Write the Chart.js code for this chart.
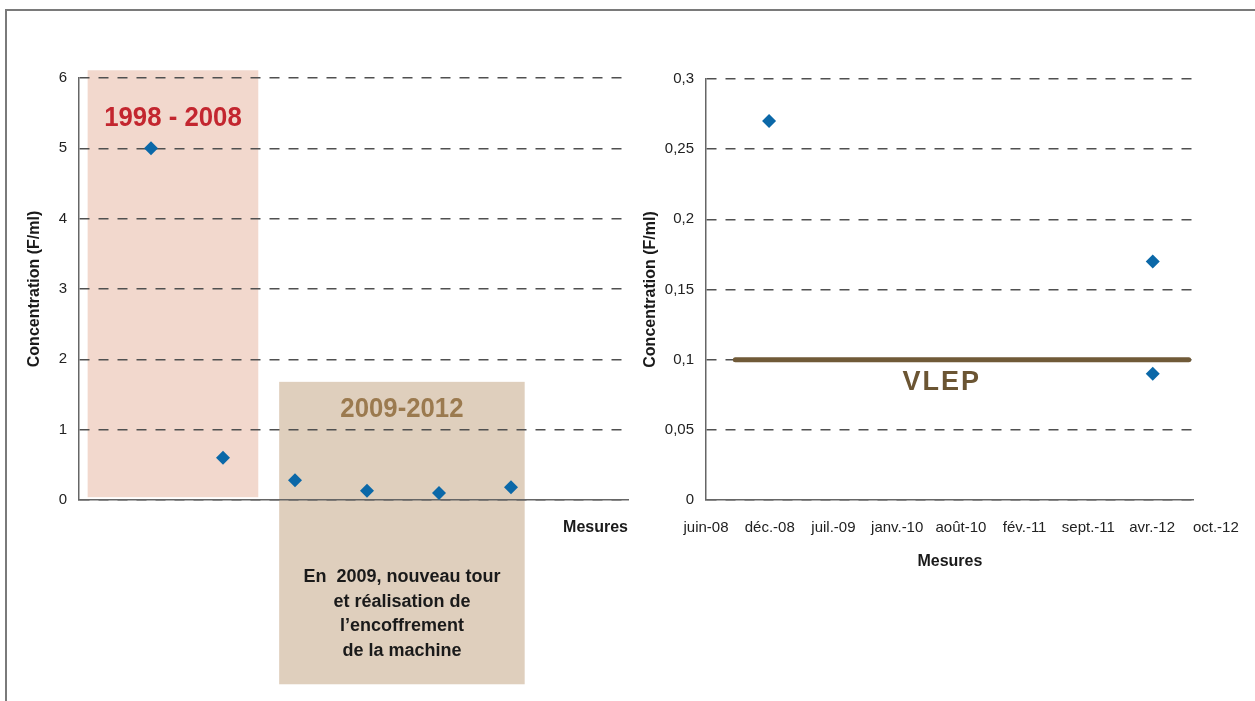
<!DOCTYPE html>
<html lang="fr">
<head>
<meta charset="utf-8">
<title>Concentration (F/ml)</title>
<script src="https://cdn.jsdelivr.net/npm/chart.js@4.4.1/dist/chart.umd.min.js"></script>
<style>
  html, body { margin: 0; padding: 0; background: #fff; }
  body { width: 1255px; height: 701px; position: relative; overflow: hidden; }
  .cadre { position: absolute; left: 5px; top: 9px; right: -10px; bottom: -10px; border-top: 2px solid #7a7a7a; border-left: 2px solid #7a7a7a; }
  .graph { position: absolute; top: 0; height: 701px; }
  #gauche { left: 0; width: 640px; }
  #droite { left: 640px; width: 615px; }
</style>
</head>
<body>
<div class="cadre"></div>
<div class="graph" id="gauche"><canvas id="chartAvant"></canvas></div>
<div class="graph" id="droite"><canvas id="chartApres"></canvas></div>
<script>
/* global Chart */
// graphique de gauche : concentration par numéro de mesure
const numMesures = [1, 2, 3, 4, 5, 6];
const concentrations = [5, 0.6, 0.28, 0.13, 0.1, 0.18];
const ticksGauche = ['0', '1', '2', '3', '4', '5', '6'];

// graphique de droite : mesures datées
const datesMesures = ['2008-12-16', '2012-04-03', '2012-04-03'];
const concentrationsDatees = [0.27, 0.17, 0.09];
const ticksDroite = ['0', '0,05', '0,1', '0,15', '0,2', '0,25', '0,3'];
const moisTicks = ['juin-08', 'déc.-08', 'juil.-09', 'janv.-10', 'août-10', 'fév.-11', 'sept.-11', 'avr.-12', 'oct.-12'];
const vlep = 0.1;
const vlepDates = ['2008-09-01', '2012-07-25'];

const periodes = ['1998 - 2008', '2009-2012'];
const noteTexte = ['En  2009, nouveau tour', 'et réalisation de', 'l\u2019encoffrement', 'de la machine'];

const DEBUT = '2008-06-01';
const FIN = '2012-08-10';
const PAS_JOURS = 200;

function jours(d) {
    return (Date.parse(d) - Date.parse(DEBUT)) / 864e5;
}

const policeTicks = { family: "'Liberation Sans', Arial, sans-serif", size: 15 };
const policeTitre = { family: "'Liberation Sans', Arial, sans-serif", size: 16, weight: 'bold' };
const bleu = '#0b68a8';

// cadres colorés des périodes (en unités des axes)
const zones = [
    { x: [0.12, 2.49], y: [0.04, 6.11], fond: '#f2d8cd', texte: '#c3262f', decal: 48 },
    { x: [2.78, 6.19], y: [-2.62, 1.68], fond: '#dfcfbd', texte: '#9b7a4f', decal: 27 }
];

const cadresPeriodes = {
    id: 'cadresPeriodes',
    beforeDraw(chart) {
        const { ctx, scales: { x, y } } = chart;
        ctx.save();
        zones.forEach((z, i) => {
            const x1 = x.getPixelForValue(z.x[0]);
            const x2 = x.getPixelForValue(z.x[1]);
            const y1 = y.getPixelForValue(z.y[1]);
            const y2 = y.getPixelForValue(z.y[0]);
            const cx = (x1 + x2) / 2;
            ctx.fillStyle = z.fond;
            ctx.fillRect(x1, y1, x2 - x1, y2 - y1);
            // titre de période, police resserrée
            ctx.save();
            ctx.translate(cx, y1 + z.decal);
            ctx.scale(0.92, 1);
            ctx.fillStyle = z.texte;
            ctx.font = "bold 28px 'Liberation Sans', Arial, sans-serif";
            ctx.textAlign = 'center';
            ctx.textBaseline = 'middle';
            ctx.fillText(periodes[i], 0, 0);
            ctx.restore();
            if (i === 1) {
                ctx.fillStyle = '#1a1a1a';
                ctx.font = "bold 18px 'Liberation Sans', Arial, sans-serif";
                ctx.textAlign = 'center';
                ctx.textBaseline = 'middle';
                noteTexte.forEach((l, k) => ctx.fillText(l, cx, y1 + 195 + k * 24.7));
            }
        });
        ctx.restore();
    }
};

const etiquetteVlep = {
    id: 'etiquetteVlep',
    afterDatasetsDraw(chart) {
        const { ctx, scales: { x, y } } = chart;
        ctx.save();
        ctx.fillStyle = '#6b5533';
        ctx.font = "bold 27px 'Liberation Sans', Arial, sans-serif";
        if ('letterSpacing' in ctx) ctx.letterSpacing = '2px';
        ctx.textAlign = 'center';
        ctx.textBaseline = 'middle';
        ctx.fillText('VLEP', x.getPixelForValue(740), y.getPixelForValue(vlep) + 23);
        ctx.restore();
    }
};

new Chart(document.getElementById('chartAvant'), {
    type: 'scatter',
    data: {
        datasets: [{
            data: numMesures.map((n, i) => ({ x: n, y: concentrations[i] })),
            pointStyle: 'rectRot',
            pointRadius: 7,
            pointHoverRadius: 7,
            backgroundColor: bleu,
            borderColor: bleu,
            borderWidth: 0
        }]
    },
    options: {
        responsive: true,
        maintainAspectRatio: false,
        animation: false,
        layout: { padding: { top: 78, right: 12, bottom: 164, left: 0 } },
        plugins: { legend: { display: false }, tooltip: { enabled: false } },
        scales: {
            x: {
                type: 'linear', min: 0, max: 7.625,
                ticks: { display: false },
                grid: { display: false, drawTicks: false },
                border: { display: true, color: '#666', width: 1.5 },
                title: { display: true, text: 'Mesures', align: 'end', font: policeTitre, color: '#1a1a1a', padding: 0 },
                afterFit: (s) => { s.height = 37; }
            },
            y: {
                min: 0, max: 6,
                ticks: { stepSize: 1, callback: (v, i) => ticksGauche[i], font: policeTicks, color: '#222', padding: 12 },
                grid: { color: '#505050', lineWidth: 1.5, drawTicks: false },
                border: { display: true, color: '#666', width: 1.5, dash: [10, 9] },
                title: { display: true, text: 'Concentration (F/ml)', font: policeTitre, color: '#1a1a1a', padding: { top: 25, bottom: 0 } },
                afterFit: (s) => { s.width = 79; }
            }
        }
    },
    plugins: [cadresPeriodes]
});

new Chart(document.getElementById('chartApres'), {
    type: 'scatter',
    data: {
        datasets: [{
            data: datesMesures.map((d, i) => ({ x: jours(d), y: concentrationsDatees[i] })),
            pointStyle: 'rectRot',
            pointRadius: 7,
            pointHoverRadius: 7,
            backgroundColor: bleu,
            borderColor: bleu,
            borderWidth: 0,
            order: 1
        }, {
            type: 'line',
            data: vlepDates.map(d => ({ x: jours(d), y: vlep })),
            borderColor: '#705a38',
            borderWidth: 5,
            borderCapStyle: 'round',
            pointRadius: 0,
            showLine: true,
            order: 2
        }]
    },
    options: {
        responsive: true,
        maintainAspectRatio: false,
        animation: false,
        layout: { padding: { top: 79, right: 61, bottom: 130, left: 0 } },
        plugins: { legend: { display: false }, tooltip: { enabled: false } },
        scales: {
            x: {
                type: 'linear', min: 0, max: jours(FIN),
                afterBuildTicks: (s) => { s.ticks = moisTicks.map((m, i) => ({ value: i * PAS_JOURS })); },
                ticks: { callback: (v, i) => moisTicks[i], font: policeTicks, color: '#222', padding: 19, maxRotation: 0, autoSkip: false },
                grid: { display: false, drawTicks: false },
                border: { display: true, color: '#666', width: 1.5 },
                title: { display: true, text: 'Mesures', font: policeTitre, color: '#1a1a1a', padding: 0 },
                afterFit: (s) => { s.height = 71; }
            },
            y: {
                min: 0, max: 0.3, z: 1,
                ticks: { stepSize: 0.05, callback: (v, i) => ticksDroite[i], font: policeTicks, color: '#222', padding: 12 },
                grid: { color: '#505050', lineWidth: 1.5, drawTicks: false },
                border: { display: true, color: '#666', width: 1.5, dash: [10, 9] },
                title: { display: true, text: 'Concentration (F/ml)', font: policeTitre, color: '#1a1a1a', padding: { top: 1, bottom: 0 } },
                afterFit: (s) => { s.width = 66; }
            }
        }
    },
    plugins: [etiquetteVlep]
});
</script>
</body>
</html>
